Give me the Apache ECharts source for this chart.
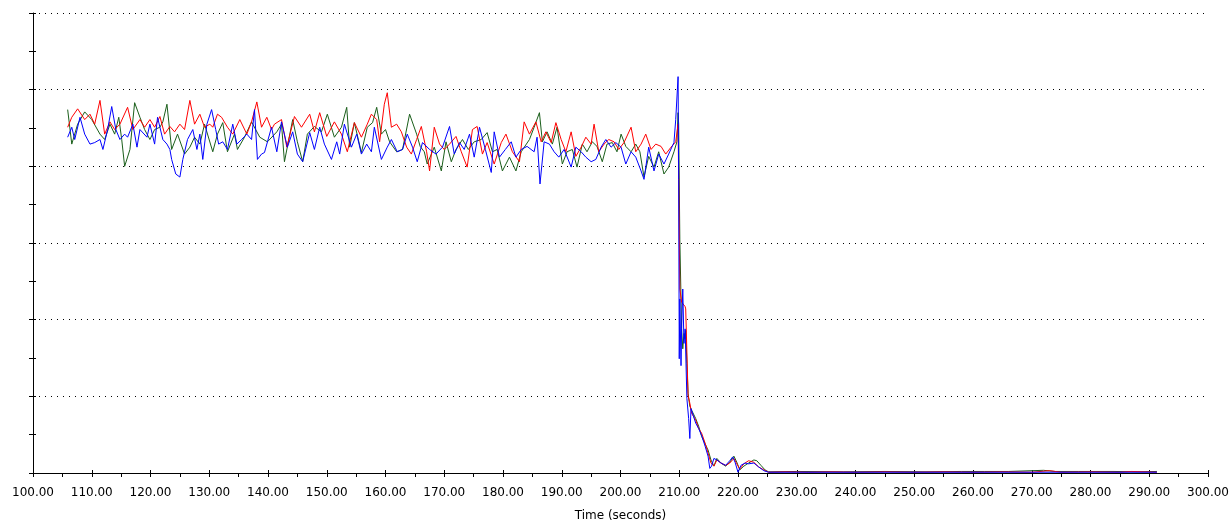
<!DOCTYPE html>
<html>
<head>
<meta charset="utf-8">
<script src="https://cdn.jsdelivr.net/npm/echarts@6/dist/echarts.min.js"></script>
<style>
  html, body { margin: 0; padding: 0; background: #fff; overflow: hidden; }
  #chart { width: 1232px; height: 527px; }
</style>
</head>
<body>
<div id="chart"></div>
<script>
// x ticks (seconds)
const xTicks = [100, 110, 120, 130, 140, 150, 160, 170, 180, 190, 200, 210, 220, 230, 240, 250, 260, 270, 280, 290, 300]

// [time (s), level]
const green = [
  [105.9,47.4],[106.6,42.9],[107.6,45.5],[108.8,47.1],[110.0,46.1],[111.4,44.2],[112.2,43.5],[113.1,45.5],[113.9,44.2],[114.6,46.4],
  [115.1,43.5],[115.6,40.0],[116.5,42.2],[117.3,48.3],[118.2,46.4],[119.0,44.8],[119.9,43.5],[120.7,44.8],[121.6,45.1],[122.1,45.8],
  [122.8,48.1],[123.6,42.2],[124.6,44.2],[125.8,41.6],[126.7,42.5],[127.5,43.8],[128.4,42.9],[129.2,45.5],[130.6,41.9],[131.4,44.2],
  [132.3,45.7],[133.1,41.9],[134.3,44.2],[134.8,42.2],[136.0,43.8],[137.2,45.8],[138.6,43.8],[139.9,43.2],[141.5,44.5],[142.3,45.5],
  [142.8,40.6],[144.2,46.1],[145.0,43.2],[145.9,40.6],[146.7,44.2],[147.9,45.2],[149.1,44.5],[150.1,46.8],[151.3,43.8],[152.5,45.1],
  [153.4,47.7],[153.9,42.5],[154.7,45.7],[155.9,41.8],[156.9,45.1],[157.8,45.7],[158.5,47.7],[159.3,44.2],[160.0,44.8],[160.7,43.2],
  [161.9,41.9],[162.9,42.2],[164.1,46.8],[165.3,44.2],[165.9,42.6],[166.6,41.9],[167.1,40.3],[168.3,42.5],[169.5,39.4],[170.3,43.2],
  [171.2,40.6],[172.0,42.2],[173.1,43.5],[174.1,42.2],[175.1,43.2],[176.3,43.5],[177.3,44.4],[178.2,41.9],[179.0,42.2],[179.9,39.4],
  [181.1,41.2],[182.2,39.4],[183.1,41.9],[184.5,43.5],[185.3,45.1],[186.2,47.0],[186.7,43.2],[187.5,44.5],[188.4,42.9],[189.2,45.1],
  [190.1,40.3],[190.9,41.9],[191.8,42.2],[192.6,39.9],[193.5,42.9],[194.3,41.9],[195.2,43.2],[196.0,42.6],[196.9,40.6],[197.7,42.9],
  [198.6,43.1],[199.4,41.9],[200.1,44.2],[200.9,42.6],[201.8,41.9],[202.6,42.9],[203.3,41.9],[204.0,38.6],[204.8,41.3],[205.7,39.9],
  [206.5,41.9],[207.4,39.0],[208.2,39.9],[209.1,41.9],[209.6,43.2],[209.8,47.0],[209.9,45.5],[210.1,30.5],[210.3,22.7],[210.4,18.8],
  [210.6,16.2],[210.8,18.2],[211.0,17.5],[211.1,18.6],[211.3,14.3],[211.5,10.4],[211.8,8.7],[212.1,8.2],[212.8,7.1],[213.3,6.1],
  [213.8,4.8],[214.4,3.8],[214.9,3.0],[215.4,1.7],[215.9,0.9],[216.4,1.9],[217.1,1.3],[217.9,0.9],[218.6,1.4],[219.3,2.2],
  [219.8,1.4],[220.3,0.4],[221.0,0.9],[221.8,1.3],[222.7,1.7],[223.2,1.6],[223.9,1.0],[224.6,0.4],[225.2,0.15],[230.0,0.2],
  [238.0,0.15],[245.0,0.2],[252.0,0.15],[258.0,0.2],[262.0,0.2],[266.0,0.2],[272.0,0.35],[274.0,0.2],[278.0,0.2],[284.0,0.2],
  [288.0,0.15],[291.3,0.2]
]

const red = [
  [105.9,45.1],[106.6,46.4],[107.6,47.5],[108.8,46.1],[109.7,46.8],[110.5,45.5],[111.4,48.6],[112.2,44.2],[113.1,45.8],[113.9,44.8],
  [114.8,45.5],[116.1,47.7],[117.0,44.8],[118.2,46.1],[119.0,45.1],[119.9,46.1],[120.7,45.1],[121.6,46.5],[122.4,44.2],[123.3,45.2],
  [124.1,44.5],[125.0,45.5],[125.8,44.8],[126.7,48.6],[127.5,45.5],[128.4,46.8],[129.2,45.1],[130.1,45.5],[130.6,45.1],[131.4,46.8],
  [132.1,46.4],[133.1,45.1],[134.0,44.2],[135.2,46.1],[136.4,44.2],[137.2,45.8],[138.1,48.4],[138.9,45.1],[139.8,46.4],[140.6,44.8],
  [141.1,45.5],[142.3,46.1],[143.2,42.5],[144.5,46.5],[145.7,45.1],[147.1,46.8],[147.9,44.5],[148.8,47.0],[150.0,43.9],[151.3,45.8],
  [152.5,44.2],[153.5,41.9],[154.7,45.7],[155.9,43.8],[156.9,45.5],[157.6,46.8],[158.5,46.1],[159.0,43.2],[159.8,48.1],[160.3,49.6],
  [161.0,45.1],[161.9,45.5],[162.7,44.5],[163.6,42.5],[164.4,41.6],[165.3,43.5],[166.1,45.2],[167.0,41.9],[167.5,39.4],[168.3,45.1],
  [169.2,42.9],[170.0,42.2],[170.9,42.9],[172.0,43.9],[172.9,41.9],[173.9,39.9],[174.8,44.8],[175.6,45.2],[176.5,41.6],[177.3,43.1],
  [178.5,40.3],[179.7,43.1],[180.5,44.2],[181.6,41.9],[182.8,40.6],[183.6,45.8],[184.5,44.2],[185.6,45.8],[186.5,43.2],[187.3,44.5],
  [188.2,43.1],[189.0,45.7],[189.9,43.5],[190.7,41.9],[191.6,44.5],[192.4,41.3],[193.3,42.5],[194.1,43.8],[195.0,42.9],[195.5,45.5],
  [196.3,41.9],[197.2,42.9],[198.0,43.5],[198.9,43.2],[199.7,42.2],[200.6,43.1],[201.8,45.1],[202.6,41.9],[203.5,42.9],[204.3,44.2],
  [205.2,42.2],[206.0,42.9],[206.9,42.6],[207.7,41.6],[208.6,42.5],[209.4,43.2],[209.8,45.5],[210.1,24.0],[210.4,22.3],[211.0,21.7],
  [211.1,21.4],[211.5,10.1],[211.8,9.1],[212.1,7.8],[212.8,6.9],[213.3,5.8],[213.8,5.2],[214.4,3.9],[214.9,2.6],[215.4,1.3],
  [215.9,0.9],[216.4,1.7],[217.1,1.3],[217.9,1.0],[218.6,1.3],[219.3,1.9],[219.8,1.2],[220.3,0.5],[221.0,1.2],[221.8,1.6],
  [222.7,1.4],[223.5,0.8],[224.4,0.4],[225.2,0.1],[228.0,0.15],[232.0,0.1],[236.0,0.15],[240.0,0.1],[245.0,0.15],[250.0,0.1],
  [255.0,0.15],[260.0,0.1],[265.0,0.15],[270.0,0.1],[273.0,0.3],[275.0,0.1],[280.0,0.15],[285.0,0.1],[287.0,0.2],[291.3,0.1]
]

const blue = [
  [105.9,43.8],[106.6,45.1],[107.1,43.5],[108.0,46.4],[108.8,44.2],[109.7,42.9],[110.5,43.1],[111.4,43.5],[111.9,42.2],[112.7,44.8],
  [113.4,47.8],[114.1,44.8],[114.8,43.5],[115.6,44.2],[116.1,43.8],[117.0,45.5],[117.7,42.5],[118.2,44.8],[119.4,43.8],[119.9,45.5],
  [120.7,42.9],[121.2,46.4],[122.1,43.5],[122.8,42.9],[123.3,42.2],[123.6,40.9],[124.3,39.0],[125.0,38.6],[125.5,40.9],[126.3,43.5],
  [127.2,44.8],[127.9,42.2],[128.4,44.2],[128.9,40.9],[129.6,45.5],[130.4,47.4],[131.1,44.8],[131.6,42.9],[132.3,43.2],[133.1,42.2],
  [134.0,45.5],[134.7,42.9],[135.5,43.5],[136.4,44.2],[137.2,43.5],[137.7,47.4],[138.2,40.9],[138.9,41.6],[139.4,41.8],[140.6,45.1],
  [141.5,41.9],[142.3,45.8],[143.3,42.5],[144.2,44.5],[145.0,41.6],[145.9,40.6],[147.1,44.4],[147.9,42.2],[148.8,45.1],[149.6,42.9],
  [150.8,40.9],[151.7,43.2],[152.2,41.6],[153.0,45.5],[154.2,42.5],[155.1,44.2],[155.9,41.6],[156.8,42.9],[157.6,41.9],[158.1,45.1],
  [159.3,40.9],[160.3,42.5],[161.0,43.5],[162.0,41.9],[162.9,42.2],[163.7,44.2],[164.6,42.5],[165.4,40.6],[166.3,43.1],[167.5,42.2],
  [168.6,41.6],[169.7,42.5],[170.9,45.2],[171.7,41.6],[172.6,43.1],[173.4,42.2],[174.3,44.2],[175.1,41.2],[176.0,45.1],[177.0,42.2],
  [178.0,39.2],[178.5,44.5],[179.4,41.2],[180.4,42.2],[181.4,43.2],[182.2,41.2],[183.1,42.2],[184.1,42.6],[185.3,41.9],[185.8,43.8],
  [186.3,37.7],[187.0,43.2],[187.9,42.9],[188.7,41.9],[189.5,41.2],[190.4,42.2],[191.6,39.9],[192.4,42.5],[193.3,41.9],[194.1,41.2],
  [195.0,40.6],[195.8,40.9],[196.7,42.5],[197.5,43.5],[198.4,42.5],[199.2,43.1],[200.1,42.5],[200.9,40.3],[201.8,41.9],[202.6,41.2],
  [203.5,39.4],[204.0,38.3],[204.8,42.5],[205.7,39.4],[206.5,41.6],[207.4,40.3],[208.2,41.6],[209.1,43.1],[209.4,46.1],[209.8,51.7],
  [209.9,38.3],[210.0,14.9],[210.1,22.7],[210.3,14.0],[210.4,18.8],[210.6,24.0],[210.8,16.9],[211.0,18.8],[211.3,9.7],[211.6,7.1],
  [211.8,4.5],[212.0,8.4],[212.3,8.2],[212.8,6.5],[213.3,5.8],[213.8,4.9],[214.4,3.5],[214.9,2.2],[215.2,0.6],[215.5,0.9],
  [215.9,1.9],[216.4,1.7],[217.1,1.3],[217.9,1.0],[218.6,1.6],[219.1,2.1],[219.5,1.4],[220.0,0.1],[220.5,1.0],[221.2,1.3],
  [221.8,1.2],[222.7,1.3],[223.5,0.8],[224.4,0.3],[225.2,0.1],[230.0,0.1],[240.0,0.1],[250.0,0.1],[260.0,0.1],[270.0,0.1],
  [280.0,0.1],[291.3,0.1]
]

const mychart = echarts.init(document.getElementById('chart'))

const tickStyle = { color: '#000', width: 1 }

const option = {
  animation: false,
  backgroundColor: '#fff',
  textStyle: { fontFamily: 'DejaVu Sans' },
  grid: { left: 33, right: 22, top: 13, bottom: 52, containLabel: false },
  xAxis: [{
    type: 'value',
    min: xTicks[0],
    max: xTicks[xTicks.length - 1],
    interval: 10,
    name: 'Time (seconds)',
    nameLocation: 'middle',
    nameGap: 37,
    nameTextStyle: { color: '#000', fontSize: 12, fontFamily: 'DejaVu Sans' },
    axisLine: { lineStyle: { color: '#000', width: 1 } },
    axisTick: { show: true, length: 4, lineStyle: tickStyle },
    minorTick: { show: true, splitNumber: 2, length: 4, lineStyle: tickStyle },
    axisLabel: {
      color: '#000', fontSize: 12, margin: 14,
      formatter: v => v.toFixed(2)
    },
    splitLine: { show: false }
  }, {
    // inner half of the ticks, which cross the axis line
    type: 'value',
    position: 'bottom',
    min: xTicks[0],
    max: xTicks[xTicks.length - 1],
    interval: 10,
    axisLine: { show: false },
    axisTick: { show: true, inside: true, length: 3, lineStyle: tickStyle },
    minorTick: { show: false },
    axisLabel: { show: false },
    splitLine: { show: false }
  }],
  yAxis: [{
    type: 'value',
    min: 0,
    max: 60,
    interval: 10,
    axisLine: { show: true, lineStyle: { color: '#000', width: 1 } },
    axisTick: { show: true, length: 4, lineStyle: tickStyle },
    minorTick: { show: true, splitNumber: 2, length: 4, lineStyle: tickStyle },
    axisLabel: { show: false },
    splitLine: {
      show: true,
      lineStyle: { color: '#000', width: 1, type: [1, 5] }
    }
  }, {
    type: 'value',
    position: 'left',
    min: 0,
    max: 60,
    interval: 5,
    axisLine: { show: false },
    axisTick: { show: true, inside: true, length: 3, lineStyle: tickStyle },
    axisLabel: { show: false },
    splitLine: { show: false }
  }],
  series: [
    { name: 'green', type: 'line', data: green, showSymbol: false, lineStyle: { color: '#1a5e1a', width: 1 } },
    { name: 'red', type: 'line', data: red, showSymbol: false, lineStyle: { color: '#ff0000', width: 1 } },
    { name: 'blue', type: 'line', data: blue, showSymbol: false, lineStyle: { color: '#0000ff', width: 1 } }
  ]
}

mychart.setOption(option, true)
</script>
</body>
</html>
